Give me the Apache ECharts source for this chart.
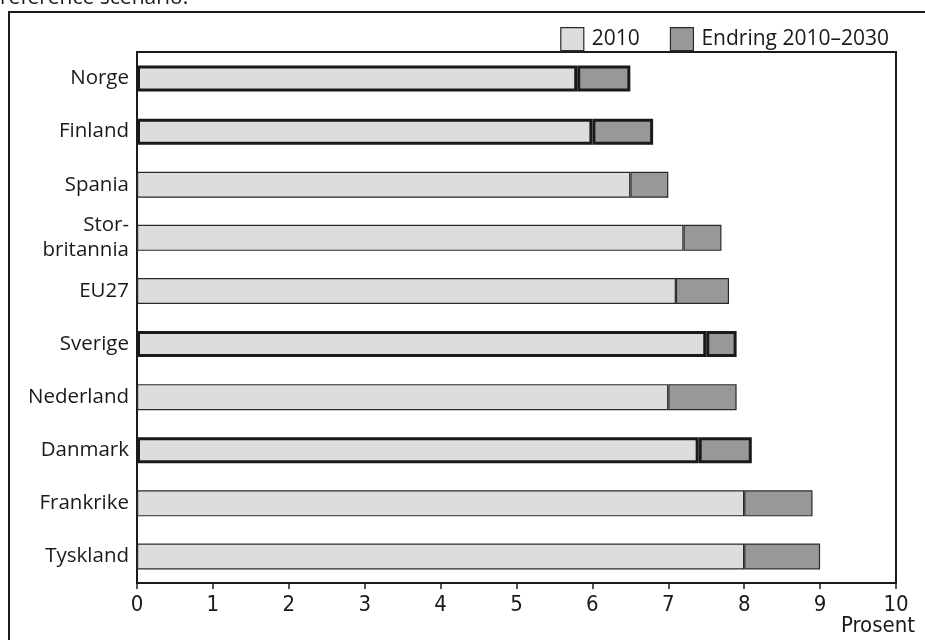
<!DOCTYPE html>
<html>
<head>
<meta charset="utf-8">
<script src="https://cdn.jsdelivr.net/npm/echarts@6/dist/echarts.min.js"></script>
<style>html,body{margin:0;padding:0;background:#fff}#c{width:925px;height:640px}</style>
</head>
<body>
<div id="c"></div>
<script>
const categories = ['Norge','Finland','Spania','Stor-\nbritannia','EU27','Sverige','Nederland','Danmark','Frankrike','Tyskland'];
const values2010 = [5.8, 6.0, 6.5, 7.2, 7.1, 7.5, 7.0, 7.4, 8.0, 8.0];
const change2010_2030 = [0.7, 0.8, 0.5, 0.5, 0.7, 0.4, 0.9, 0.7, 0.9, 1.0];
const boldCategories = ['Norge','Finland','Sverige','Danmark'];
const xTicks = [0,1,2,3,4,5,6,7,8,9,10];
const seriesNames = ['2010','Endring 2010\u20132030'];

const FONT = '"Open Sans", "Noto Sans", sans-serif';
const NARROW = '"Liberation Sans Narrow", "DejaVu Sans Condensed", sans-serif';
const LIGHT = '#dcdddf', DARK = '#97989a', EDGE = '#2a2a2a';

function items(vals){
  return vals.map((v,i)=>{
    const bold = boldCategories.includes(categories[i]);
    return {value:v, itemStyle:{borderWidth: bold?3:1.2, borderColor: bold?'#1a1a1a':EDGE}};
  });
}

const chart = echarts.init(document.getElementById('c'), null, {renderer:'canvas'});
chart.setOption({
  animation:false,
  backgroundColor:'#fff',
  grid:{left:137, right:29, top:52, bottom:57, show:true, borderColor:'#1a1a1a', borderWidth:2, backgroundColor:'transparent'},
  legend:{
    right:31, top:22, itemWidth:23, itemHeight:23, itemGap:30,
    textStyle:{fontFamily:FONT, fontSize:21, color:'#1a1a1a', padding:[0,0,0,3]},
    data:seriesNames.map((n,i)=>({name:n, icon:'rect', itemStyle:{color:i?DARK:LIGHT, borderColor:EDGE, borderWidth:1.2}}))
  },
  xAxis:{
    type:'value', min:xTicks[0], max:xTicks[xTicks.length-1], interval:1,
    axisLine:{show:true, lineStyle:{color:'#1a1a1a', width:2}},
    axisTick:{show:true, length:6, lineStyle:{color:'#1a1a1a', width:1.5}},
    splitLine:{show:false},
    axisLabel:{fontFamily:NARROW, fontSize:22, color:'#1a1a1a', margin:11}
  },
  yAxis:{
    type:'category', inverse:true, data:categories,
    axisLine:{show:false}, axisTick:{show:false}, splitLine:{show:false},
    axisLabel:{fontFamily:FONT, fontSize:20.5, color:'#1a1a1a', margin:8, lineHeight:25}
  },
  series:[
    {name:seriesNames[0], type:'bar', stack:'a', barWidth:26, data:items(values2010), itemStyle:{color:LIGHT}},
    {name:seriesNames[1], type:'bar', stack:'a', barWidth:26, data:items(change2010_2030), itemStyle:{color:DARK}}
  ],
  graphic:[
    {type:'rect', shape:{x:9, y:12, width:960, height:700}, style:{fill:'none', stroke:'#1a1a1a', lineWidth:2}, silent:true, z:-1},
    {type:'text', x:0, y:-12, style:{text:'reference scenario.', fontFamily:FONT, fontSize:21, fill:'#1a1a1a'}},
    {type:'text', right:10, top:615, style:{text:'Prosent', fontFamily:NARROW, fontSize:22, fill:'#1a1a1a'}}
  ]
});
</script>
</body>
</html>
